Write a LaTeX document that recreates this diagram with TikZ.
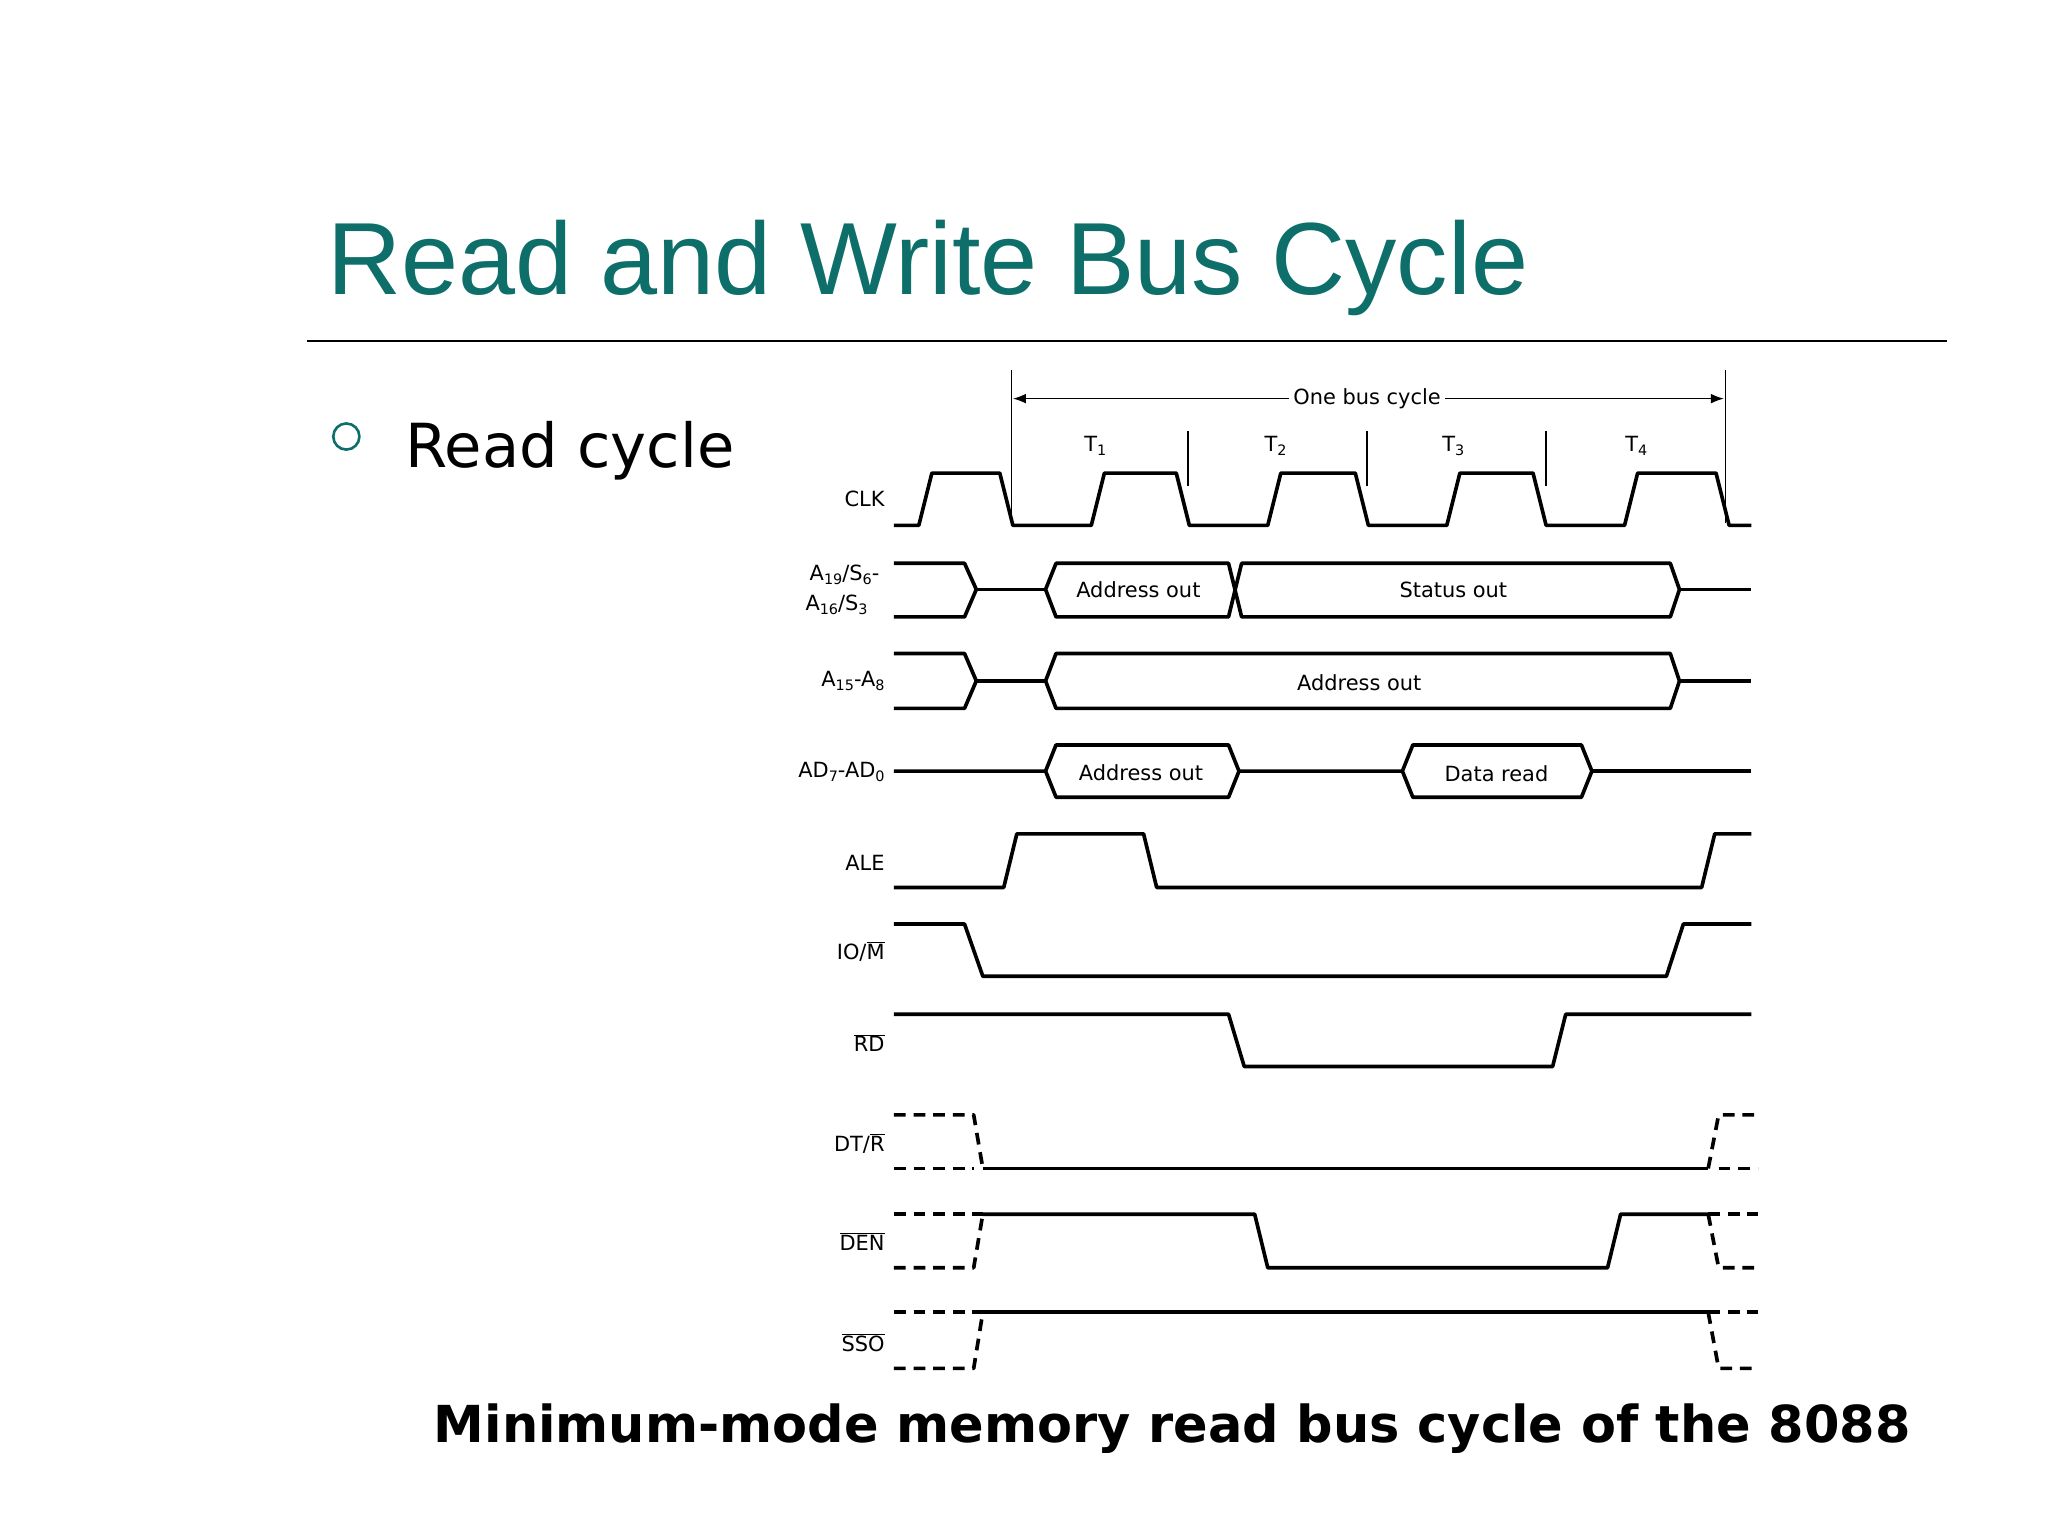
\documentclass[tikz,border=0pt]{standalone}
\usepackage{fontspec}
\setmainfont{DejaVu Sans}
\newfontfamily\titlefont{Liberation Sans}
\usetikzlibrary{arrows.meta}
\definecolor{teal1}{HTML}{0E6E6A}
\newcommand{\subtx}[1]{\raisebox{-3pt}{\fontsize{11}{12}\selectfont #1}}
\tikzset{sig/.style={line width=2.8pt,line join=round},
 dsig/.style={sig,dash pattern=on 9pt off 6pt},
 lab/.style={anchor=east,font=\fontsize{16}{18}\selectfont,inner sep=0pt},
 boxlab/.style={font=\fontsize{16}{18}\selectfont,inner sep=0pt}}
\begin{document}
\begin{tikzpicture}[x=1pt,y=-1pt]
\useasboundingbox (0,0) rectangle (1567,1175);
\node[anchor=base west,inner sep=0pt,text=teal1,font=\titlefont\fontsize{78.5}{88}\selectfont] (title) at (250,225) {Read and Write Bus Cycle};
\draw[line width=1.5pt] (235,261) -- (1490,261);
\draw[teal1,line width=2pt] (265,334) circle (10);
\node[anchor=base west,inner sep=0pt,font=\fontsize{46.5}{50}\selectfont] (rc) at (310,358) {Read cycle};
\node[anchor=base,inner sep=0pt,font=\bfseries\fontsize{39}{42}\selectfont] (cap) at (897,1104) {Minimum-mode memory read bus cycle of the 8088};
% timing markers
\draw[line width=1pt] (774,283) -- (774,400);
\draw[line width=1pt] (1320,283) -- (1320,400);
\foreach \x in {909,1046,1183} \draw[line width=1pt] (\x,330) -- (\x,372);
\node[boxlab,fill=white,inner xsep=3pt] (obc) at (1046,305) {One bus cycle};
\draw[line width=1pt,-{Latex[length=10pt]}] (obc.west) -- (775,305);
\draw[line width=1pt,-{Latex[length=10pt]}] (obc.east) -- (1319,305);
\foreach \x/\n in {838/1,976/2,1112/3,1252/4} \node[boxlab] at (\x,341) {T\subtx{\n}};
% labels
\node[lab] at (677,382) {CLK};
\node[lab] at (673,440) {A\subtx{19}/S\subtx{6}-};
\node[lab] at (664,463) {A\subtx{16}/S\subtx{3}};
\node[lab] at (677,521) {A\subtx{15}-A\subtx{8}};
\node[lab] at (677,591) {AD\subtx{7}-AD\subtx{0}};
\node[lab] at (677,660) {ALE};
\node[lab] at (677,728) {IO/$\overline{\hbox{M}}$};
\node[lab] at (677,798) {$\overline{\hbox{RD}}$};
\node[lab] at (677,875) {DT/$\overline{\hbox{R}}$};
\node[lab] at (677,950) {$\overline{\hbox{DEN}}$};
\node[lab] at (677,1027) {$\overline{\hbox{SSO}}$};
% CLK
\draw[sig] (684,402) -- (703,402) -- (713,362) -- (765,362) -- (775,402) -- (835,402) -- (845,362) -- (900,362) -- (910,402) -- (970,402) -- (980,362) -- (1037,362) -- (1047,402) -- (1107,402) -- (1117,362) -- (1173,362) -- (1183,402) -- (1243,402) -- (1253,362) -- (1313,362) -- (1323,402) -- (1340,402);
% A19
\draw[sig] (684,431) -- (738,431) -- (747,451) -- (738,472) -- (684,472);
\draw[sig] (747,451) -- (800,451);
\draw[sig] (800,451) -- (808,431) -- (940,431) -- (950,472) -- (1278,472) -- (1285,451) -- (1278,431) -- (950,431) -- (940,472) -- (808,472) -- cycle;
\draw[sig] (1285,451) -- (1340,451);
\node[boxlab] at (871,451) {Address out};
\node[boxlab] at (1112,451) {Status out};
% A15
\draw[sig] (684,500) -- (738,500) -- (747,521) -- (738,542) -- (684,542);
\draw[sig] (747,521) -- (800,521);
\draw[sig] (800,521) -- (808,500) -- (1278,500) -- (1285,521) -- (1278,542) -- (808,542) -- cycle;
\draw[sig] (1285,521) -- (1340,521);
\node[boxlab] at (1040,522) {Address out};
% AD
\draw[sig] (684,590) -- (800,590) -- (808,570) -- (940,570) -- (948,590) -- (940,610) -- (808,610) -- (800,590);
\draw[sig] (948,590) -- (1073,590) -- (1081,570) -- (1210,570) -- (1218,590) -- (1210,610) -- (1081,610) -- (1073,590);
\draw[sig] (1218,590) -- (1340,590);
\node[boxlab] at (873,591) {Address out};
\node[boxlab] at (1145,592) {Data read};
% ALE
\draw[sig] (684,679) -- (768,679) -- (778,638) -- (875,638) -- (885,679) -- (1302,679) -- (1312,638) -- (1340,638);
% IO/M
\draw[sig] (684,707) -- (738,707) -- (752,747) -- (1275,747) -- (1288,707) -- (1340,707);
% RD
\draw[sig] (684,776) -- (940,776) -- (952,816) -- (1188,816) -- (1198,776) -- (1340,776);
% DT/R
\draw[dsig] (684,853) -- (745,853) -- (752,894);
\draw[dsig] (684,894) -- (745,894);
\draw[sig] (752,894) -- (1307,894);
\draw[dsig] (1307,894) -- (1315,853) -- (1345,853);
\draw[dsig] (1315,894) -- (1345,894);
% DEN
\draw[dsig] (684,929) -- (752,929);
\draw[dsig] (684,970) -- (745,970) -- (752,929);
\draw[sig] (752,929) -- (960,929) -- (970,970) -- (1230,970) -- (1240,929) -- (1307,929);
\draw[dsig] (1307,929) -- (1315,970) -- (1345,970);
\draw[dsig] (1307,929) -- (1345,929);
% SSO
\draw[dsig] (684,1004) -- (752,1004);
\draw[dsig] (684,1047) -- (745,1047) -- (752,1004);
\draw[sig] (752,1004) -- (1307,1004);
\draw[dsig] (1307,1004) -- (1315,1047) -- (1345,1047);
\draw[dsig] (1307,1004) -- (1345,1004);
\end{tikzpicture}
\end{document}
